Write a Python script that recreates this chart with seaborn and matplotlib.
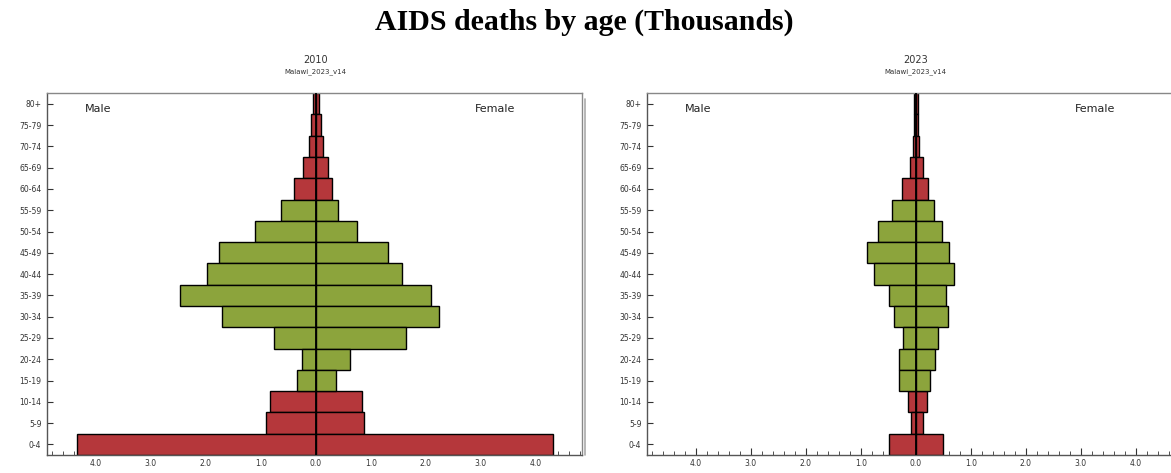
import numpy as np
import pandas as pd
import matplotlib
matplotlib.use("Agg")
import matplotlib.pyplot as plt
from matplotlib.ticker import MultipleLocator, FuncFormatter
import seaborn as sns

# ===============================
# Data (thousands)
# ===============================
ages = ["80+", "75-79", "70-74", "65-69", "60-64", "55-59", "50-54", "45-49",
        "40-44", "35-39", "30-34", "25-29", "20-24", "15-19", "10-14", "5-9", "0-4"]

male_2010 = [0.06, 0.09, 0.13, 0.24, 0.40, 0.64, 1.11, 1.76, 1.98, 2.47,
             1.71, 0.77, 0.25, 0.34, 0.83, 0.90, 4.35]
female_2010 = [0.06, 0.10, 0.13, 0.22, 0.29, 0.40, 0.74, 1.31, 1.56, 2.10,
               2.24, 1.64, 0.62, 0.36, 0.84, 0.88, 4.32]

male_2023 = [0.03, 0.04, 0.05, 0.11, 0.26, 0.44, 0.69, 0.89, 0.76, 0.49,
             0.39, 0.24, 0.30, 0.30, 0.15, 0.08, 0.48]
female_2023 = [0.03, 0.04, 0.05, 0.13, 0.22, 0.33, 0.48, 0.61, 0.69, 0.54,
               0.59, 0.41, 0.35, 0.26, 0.20, 0.13, 0.50]

# children and older ages drawn red, adults green
groups = ["other"] * 5 + ["adult"] * 9 + ["other"] * 3

years = ["2010", "2023"]
subtitle = "Malawi_2023_v14"
palette = {"other": "#b5373b", "adult": "#8ca43c"}

# ===============================
# Plot
# ===============================
sns.set_style("white")
plt.rcParams['font.family'] = ['DejaVu Sans']

fig = plt.figure(figsize=(11.71, 4.73), dpi=100)
ax1 = fig.add_axes([0.0401, 0.038, 0.4569, 0.765])
ax2 = fig.add_axes([0.5525, 0.038, 0.4569, 0.765])

panels = [(ax1, male_2010, female_2010), (ax2, male_2023, female_2023)]

for i, (ax, male, female) in enumerate(panels):
    df_m = pd.DataFrame({"age": ages, "value": [-v for v in male], "group": groups})
    df_f = pd.DataFrame({"age": ages, "value": female, "group": groups})
    for d in (df_m, df_f):
        sns.barplot(data=d, x="value", y="age", hue="group", palette=palette,
                    order=ages, orient="h", width=1, dodge=False, errorbar=None,
                    saturation=1, edgecolor="black", linewidth=1.0,
                    legend=False, ax=ax)
    ax.axvline(0, color="black", lw=1.3, zorder=5)
    ax.set_xlim(-4.89, 4.84)
    ax.set_ylim(16.5, -0.5)
    ax.set_xlabel("")
    ax.set_ylabel("")

    ax.xaxis.set_major_locator(MultipleLocator(1.0))
    ax.xaxis.set_minor_locator(MultipleLocator(0.2))
    ax.xaxis.set_major_formatter(FuncFormatter(lambda x, p: "%.1f" % abs(x)))
    ax.tick_params(axis="x", which="major", direction="in", length=5, width=0.8,
                   labelsize=5.5, colors="#333333", pad=3)
    ax.tick_params(axis="x", which="minor", direction="in", length=3, width=0.6,
                   colors="#333333")
    ax.tick_params(axis="y", direction="in", length=4, width=0.8,
                   labelsize=5.5, colors="#333333", pad=4)
    ax.tick_params(bottom=True, left=True, which="both")

    for s in ax.spines.values():
        s.set_color("#555555")
        s.set_linewidth(1.0)
    ax.spines["top"].set_color("#888888")
    ax.spines["right"].set_color("#888888")

    ax.text(0.07, 0.955, "Male", transform=ax.transAxes, fontsize=8,
            color="#222222", va="center")
    ax.text(0.8, 0.955, "Female", transform=ax.transAxes, fontsize=8,
            color="#222222", va="center")

    ax.text(0.0, -0.5 - 1.55, years[i], transform=ax.transData, fontsize=7,
            ha="center", va="center", color="#333333")
    ax.text(0.0, -0.5 - 1.0, subtitle, transform=ax.transData, fontsize=5,
            ha="center", va="center", color="#333333")

# shadow on the left panel border
ax1.plot([1.006, 1.006], [0.0, 0.985], transform=ax1.transAxes, clip_on=False,
         color="#aaaaaa", lw=1.2)

fig.text(0.499, 0.952, "AIDS deaths by age (Thousands)", ha="center", va="center",
         fontsize=21.5, fontweight="bold", color="black",
         family=["Liberation Serif"])

fig.savefig("out.png", dpi=100)
